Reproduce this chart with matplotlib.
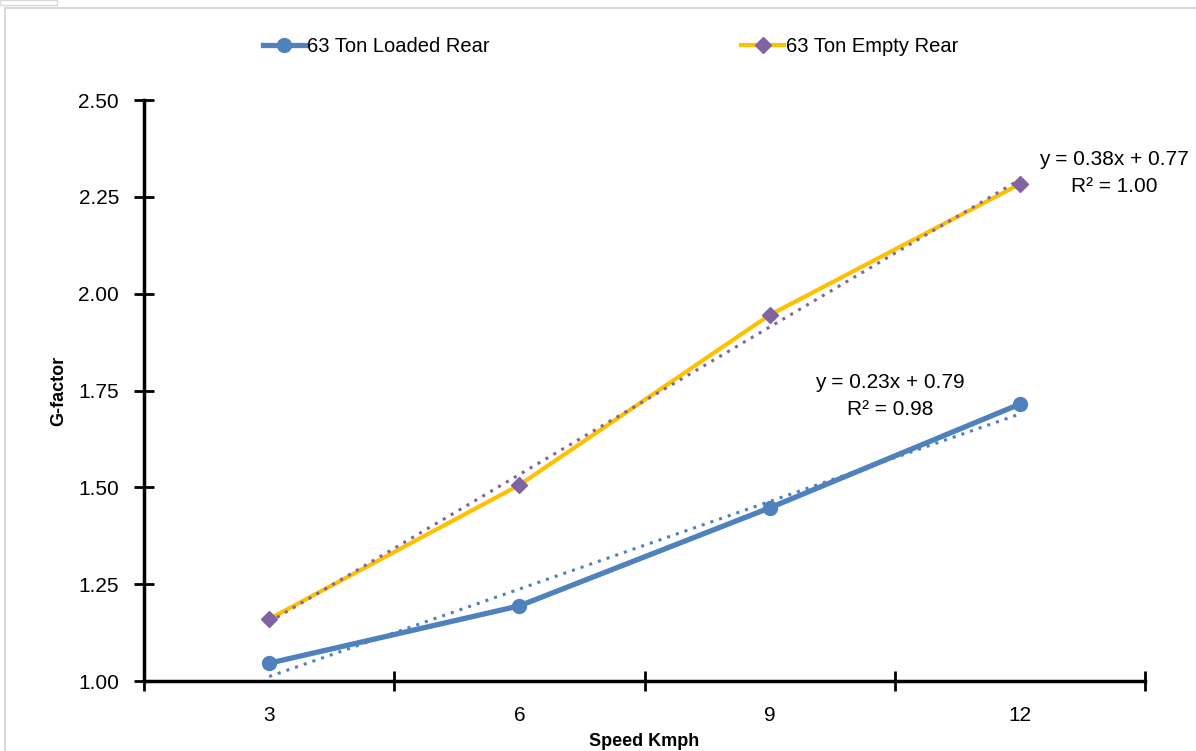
import numpy as np
import matplotlib
matplotlib.use("Agg")
import matplotlib.pyplot as plt
from matplotlib.patches import Rectangle

plt.rcParams['font.family'] = ['Liberation Sans', 'DejaVu Sans']

speeds = ["3", "6", "9", "12"]
loaded_rear = [1.046, 1.194, 1.447, 1.715]
empty_rear = [1.160, 1.506, 1.945, 2.283]
y_ticks = [1.00, 1.25, 1.50, 1.75, 2.00, 2.25, 2.50]

fig = plt.figure(figsize=(11.96, 7.51), dpi=100)
ax = fig.add_axes([0.1204, 0.0932, 0.8370, 0.7736])

# chart frame like the spreadsheet export
fig.patches.append(Rectangle((5 / 1196, -0.01), 1.0, 1 - 8 / 751 + 0.01, transform=fig.transFigure,
                             fill=False, edgecolor='#d9d9d9', linewidth=1.5))
fig.patches.append(Rectangle((0, 1 - 5 / 751), 57 / 1196, 5 / 751, transform=fig.transFigure,
                             fill=False, edgecolor='#d9d9d9', linewidth=1))

X = np.arange(len(speeds))
Xn = X + 1  # excel numbers categories 1..n for trendlines

blue = '#4F81BD'
gold = '#FFC000'
purple = '#8064A2'

ax.plot(X, loaded_rear, color=blue, linewidth=3.8, marker='o', markersize=10,
        label='63 Ton Loaded Rear', zorder=3)
ax.plot(X, empty_rear, color=gold, linewidth=3.0, marker='D', markersize=8,
        markerfacecolor=purple, markeredgecolor=purple, label='63 Ton Empty Rear', zorder=3)

# linear trendlines
for vals, col, pos in [(loaded_rear, blue, (2.481, 1.735)), (empty_rear, purple, (3.376, 2.312))]:
    m, b = np.polyfit(Xn, vals, 1)
    fit = m * Xn + b
    r2 = 1 - np.sum((np.array(vals) - fit) ** 2) / np.sum((np.array(vals) - np.mean(vals)) ** 2)
    ax.plot(X, fit, color=col, linestyle=(0, (1, 2)), linewidth=2.2, zorder=4)
    ax.text(pos[0], pos[1], 'y = %.2fx + %.2f\nR² = %.2f' % (m, b, r2), ha='center', va='center',
            multialignment='center', fontsize=15, linespacing=1.55)

ax.set_xlim(-0.5, len(speeds) - 0.5)
ax.set_ylim(1.0, 2.5)
ax.set_yticks(y_ticks)
ax.set_yticklabels(['%.2f' % v for v in y_ticks])
ax.set_xticks(np.arange(len(speeds) + 1) - 0.5)
ax.set_xticklabels([])
ax.set_xticks(X, minor=True)
ax.set_xticklabels(speeds, minor=True)
ax.tick_params(axis='x', which='major', direction='inout', length=14, width=2)
ax.tick_params(axis='x', which='minor', length=0, labelsize=15, pad=18)
ax.tick_params(axis='y', direction='inout', length=14, width=2, labelsize=15, pad=11)

for s in ['top', 'right']:
    ax.spines[s].set_visible(False)
for s in ['left', 'bottom']:
    ax.spines[s].set_linewidth(2.5)

ax.set_xlabel('Speed Kmph', fontsize=13, fontweight='bold', labelpad=6)
ax.set_ylabel('G-factor', fontsize=13, fontweight='bold', labelpad=8)

ax.legend(loc='lower center', bbox_to_anchor=(0.466, 1.045), ncol=2, frameon=False, fontsize=14.5,
          columnspacing=12.5, handlelength=2.1, handletextpad=0.1)

fig.savefig('out.png', dpi=100)
